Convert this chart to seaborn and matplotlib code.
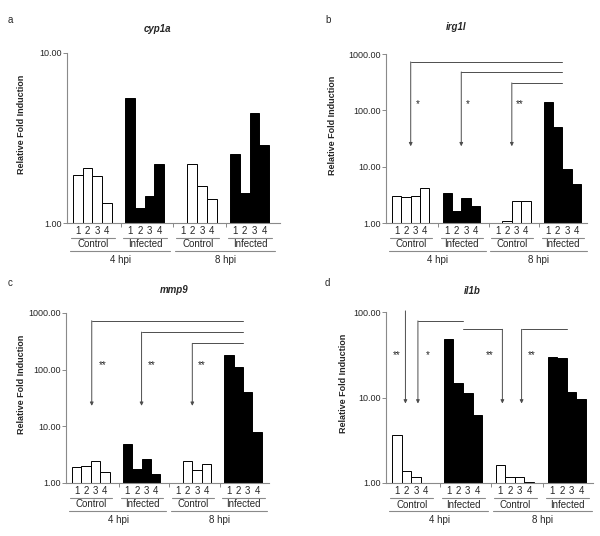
import numpy as np
import pandas as pd
import matplotlib
matplotlib.use('Agg')
import matplotlib.pyplot as plt
import seaborn as sns
from matplotlib.ticker import FixedLocator, NullLocator, FuncFormatter, NullFormatter

# values (fold induction, log scale); nan = no visible bar
genes = ['cyp1a', 'irg1l', 'mmp9', 'il1b']
panel_letters = ['a', 'b', 'c', 'd']
conditions = ['Control', 'Infected', 'Control', 'Infected']
times = ['4 hpi', '8 hpi']
replicates = ['1', '2', '3', '4']

cyp1a = [1.92, 2.10, 1.89, 1.32, 5.46, 1.23, 1.44, 2.21,
         np.nan, 2.21, 1.64, 1.39, 2.55, 1.51, 4.42, 2.88]
irg1l = [3.05, 2.86, 3.05, 4.13, 3.45, 1.65, 2.82, 2.0,
         np.nan, 1.09, 2.46, 2.5, 139, 51, 9.0, 5.0]
mmp9 = [1.89, 1.97, 2.41, 1.54, 4.9, 1.77, 2.65, 1.42,
        np.nan, 2.48, 1.68, 2.16, 179, 110, 40, 7.8]
il1b = [3.68, 1.37, 1.18, np.nan, 47.9, 14.7, 11.3, 6.3,
        1.61, 1.18, 1.18, 1.03, 29.8, 28.7, 11.7, 9.7]
values = [cyp1a, irg1l, mmp9, il1b]

y_tops = [10, 1000, 1000, 100]

# significance brackets: (arrow x, line end x, line level, arrow tip)
brackets = [
    [],
    [(1.5, 17.7, 724, 23), (6.9, 17.7, 480, 23), (12.3, 17.7, 307, 23)],
    [(1.6, 17.7, 730, 23), (6.9, 17.7, 460, 23), (12.3, 17.7, 291, 23)],
    [(0.9, 17.7, 103, 8.5), (2.2, 6.9, 78.7, 8.5), (11.0, 6.9, 62.7, 8.5), (13.0, 17.7, 62.7, 8.5)],
]
stars = [
    [],
    [(2.3, 130, '*'), (7.6, 130, '*'), (13.1, 130, '**')],
    [(2.8, 122, '**'), (8.0, 122, '**'), (13.3, 122, '**')],
    [(0.0, 31.4, '**'), (3.25, 31.4, '*'), (9.7, 31.4, '**'), (14.1, 31.4, '**')],
]

sns.set_style('ticks')
plt.rcParams['font.family'] = ['Liberation Sans', 'DejaVu Sans']

W, H = 600, 536
fig = plt.figure(figsize=(6, 5.36), dpi=100)

# axes boxes in pixels: left, bottom(y from top), width, height
boxes = [(67, 223, 213, 170), (386, 223, 201, 169), (66, 483, 203, 170), (386, 483, 207, 171)]
xlims = [(-1.12, 20.84), (-1.14, 20.33), (-1.14, 20.46), (-1.125, 20.44)]
ylab_x = [-41, -49, -40, -38]
title_pos = [(157, 29), (456, 27), (174, 290), (472, 291)]
letter_pos = [(8, 20), (325, 20), (8, 283), (325, 283)]

grey = '#8a8a8a'
spacing = 5.4
positions = [g * spacing + i for g in range(4) for i in range(4)]

for k in range(4):
    l, b, w, h = boxes[k]
    ax = fig.add_axes([l / W, 1 - b / H, w / W, h / H])
    df = pd.DataFrame({'pos': positions, 'value': values[k],
                       'cond': [conditions[g] for g in range(4) for i in range(4)]})
    df = df.dropna()
    sns.barplot(data=df, x='pos', y='value', hue='cond',
                palette={'Control': 'white', 'Infected': 'black'},
                native_scale=True, width=1, dodge=False, errorbar=None,
                edgecolor='black', linewidth=0.7, legend=False, ax=ax)
    ax.set_yscale('log')
    ax.set_ylim(1, y_tops[k])
    ax.set_xlim(*xlims[k])

    ticks = [10 ** i for i in range(int(np.log10(y_tops[k])) + 1)]
    ax.yaxis.set_major_locator(FixedLocator(ticks))
    ax.yaxis.set_minor_locator(NullLocator())
    ax.yaxis.set_major_formatter(FuncFormatter(lambda v, p: f'{v:.2f}'))
    ax.tick_params(axis='y', length=3, width=0.7, color=grey, labelsize=6.5, pad=1)

    ax.xaxis.set_major_locator(FixedLocator([4.45, 9.85, 15.25]))
    ax.xaxis.set_major_formatter(NullFormatter())
    ax.xaxis.set_minor_locator(FixedLocator(positions))
    ax.xaxis.set_minor_formatter(FuncFormatter(lambda v, p: replicates[p % 4]))
    ax.tick_params(axis='x', which='major', length=3, width=0.7, color=grey)
    ax.tick_params(axis='x', which='minor', length=0, labelsize=7, pad=2)

    sns.despine(ax=ax)
    for s in ['left', 'bottom']:
        ax.spines[s].set_color(grey)
        ax.spines[s].set_linewidth(0.8)

    ax.set_xlabel('')
    ax.set_ylabel('Relative Fold Induction', fontsize=6.5, fontweight='bold')
    ax.yaxis.set_label_coords(ylab_x[k] / w, 0.58)

    trans = ax.get_xaxis_transform()
    for g in range(4):
        x0 = g * spacing
        ax.plot([x0 - 0.7, x0 + 3.8], [-0.09, -0.09], transform=trans,
                color=grey, lw=0.8, clip_on=False)
        ax.text(x0 + 1.55, -0.126, conditions[g], transform=trans,
                ha='center', va='center', fontsize=7)
    for t in range(2):
        x0 = t * 2 * spacing
        ax.plot([x0 - 0.8, x0 + 9.5], [-0.165, -0.165], transform=trans,
                color=grey, lw=0.8, clip_on=False)
        ax.text(x0 + 4.4, -0.218, times[t], transform=trans,
                ha='center', va='center', fontsize=7)

    for xa, xe, yl, tip in brackets[k]:
        ax.plot([xe, xa], [yl, yl], color='#4d4d4d', lw=0.7)
        ax.annotate('', xy=(xa, tip), xytext=(xa, yl),
                    arrowprops=dict(arrowstyle='-|>', color='#4d4d4d', lw=0.7,
                                    mutation_scale=5, shrinkA=0, shrinkB=0))
    for xs, ys, s in stars[k]:
        ax.text(xs, ys, s, ha='center', va='center', fontsize=7)

    tx, ty = title_pos[k]
    fig.text(tx / W, 1 - ty / H, genes[k], ha='center', va='center',
             fontsize=7, fontweight='bold', fontstyle='italic')
    lx, ly = letter_pos[k]
    fig.text(lx / W, 1 - ly / H, panel_letters[k], ha='left', va='center', fontsize=7)

fig.savefig('out.png', dpi=100)
